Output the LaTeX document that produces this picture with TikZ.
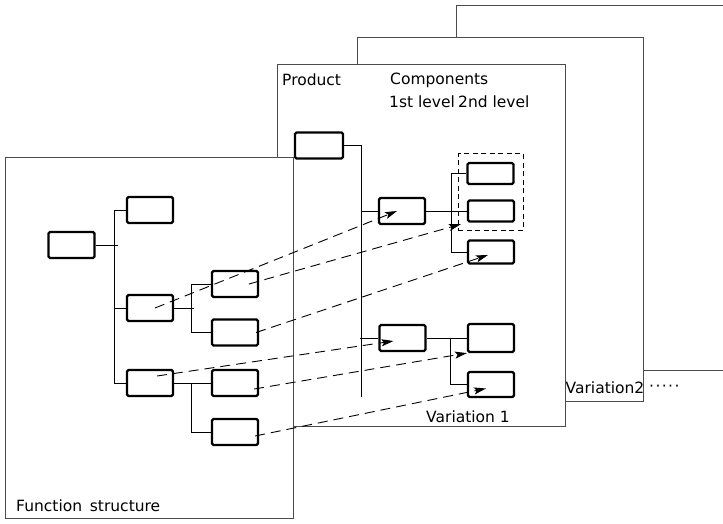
\documentclass[tikz,border=0pt]{standalone}
\usepackage{fontspec}
\setmainfont{DejaVu Sans}
\usetikzlibrary{arrows.meta,fit}

\begin{document}
\begin{tikzpicture}[
    x=1pt, y=-1pt,
    sheet/.style={draw=black!70, line width=0.7pt, fill=white},
    box/.style={draw, line width=2.2pt, rounded corners=1.5pt, minimum width=46pt, minimum height=26pt, inner sep=0pt},
    tree/.style={line width=0.9pt},
    group/.style={draw, dash pattern=on 5pt off 3.5pt, line width=1.1pt, inner sep=8pt},
    map/.style={-{Stealth[length=12pt,width=7pt,inset=2.5pt]}, dash pattern=on 10pt off 6pt, line width=0.9pt},
    lbl/.style={font=\fontsize{15.5}{18}\selectfont, inner sep=0pt}
]
\useasboundingbox (0,0) rectangle (723,523);
\clip (0,0) rectangle (723,523);

% stacked sheets, back to front
\draw[sheet] (456,5) rectangle (740,370);
\draw[sheet] (357,37) rectangle (643,401);
\draw[sheet] (277,64) rectangle (565,426);
\draw[sheet] (5,157) rectangle (293,518);

% labels
\node[lbl, anchor=west] (prodlbl) at (282,80) {Product};
\node[lbl, anchor=west] (complbl) at (390,80) {Components};
\node[lbl, anchor=west] (lvl1) at (389,102) {1st level};
\node[lbl, anchor=west] (lvl2) at (458,102) {2nd level};
\node[lbl] (var1) at (468,417) {Variation 1};
\node[lbl] (var2) at (605,388) {Variation2};
\node[lbl, anchor=west] (more) at (649,388) {·\kern1.4pt·\kern1.4pt·\kern1.4pt·\kern1.4pt·};
\node[lbl, anchor=west] (funclbl) at (16,506) {Function\hspace{0.5em}structure};

% function structure
\node[box] (f0) at (71.5,245) {};
\node[box] (f1) at (150,210) {};
\node[box] (f2) at (150,308) {};
\node[box] (f21) at (235,284) {};
\node[box] (f22) at (235,332.5) {};
\node[box] (f3) at (150,383) {};
\node[box] (f31) at (235,383) {};
\node[box] (f32) at (235,432) {};
\draw[tree] (f0.east) -- ++(22,0);
\draw[tree] (f1.west) -- ++(-11,0) |- (f3.west);
\draw[tree] (f2.west) -- ++(-11,0);
\draw[tree] (f2.east) -- ++(20,0);
\draw[tree] (f21.west) -- ++(-19,0) |- (f22.west);
\draw[tree] (f3.east) -- (f31.west);
\draw[tree] (f32.west) -- ++(-19,0) |- (f31.west);

% product and components
\node[box, minimum width=48pt] (prd) at (319,145.5) {};
\node[box] (c1) at (402,211) {};
\node[box] (c2) at (402.5,338) {};
\node[box, minimum height=21pt] (c11) at (490.5,173.5) {};
\node[box, minimum height=21pt] (c12) at (491,211) {};
\node[box, minimum height=23pt] (c13) at (491,252) {};
\node[box, minimum height=28pt] (c21) at (491,338) {};
\node[box, minimum height=25pt] (c22) at (491,384.5) {};
\node[group, fit=(c11)(c12)] (grp) {};
\coordinate (tend) at (361,397);
\draw[tree] (prd.east) -| (tend);
\draw[tree] (c1.west) -- ++(-17,0);
\draw[tree] (c2.west) -- ++(-18,0);
\draw[tree] (c1.east) -- (c12.west);
\draw[tree] (c11.west) -- ++(-15,0) |- (c13.west);
\draw[tree] (c2.east) -- (c21.west);
\draw[tree] (c22.west) -- ++(-16,0) |- (c21.west);

% mapping of functions to components
\draw[map] ([xshift=5pt]f2.center) -- ([xshift=-5pt]c1.center);
\draw[map] ([xshift=14pt]f21.center) -- ([shift={(3pt,7pt)}]grp.south west);
\draw[map] ([xshift=-3pt]f22.east) -- ([shift={(-3pt,-3pt)}]c13.center);
\draw[map] ([shift={(7pt,7pt)}]f3.center) -- ([shift={(-9pt,-3pt)}]c2.center);
\draw[map] ([shift={(-5pt,-6pt)}]f31.east) -- (c21.south west);
\draw[map] ([shift={(-4pt,-4pt)}]f32.east) -- ([shift={(-5pt,-4pt)}]c22.center);
\end{tikzpicture}
\end{document}
